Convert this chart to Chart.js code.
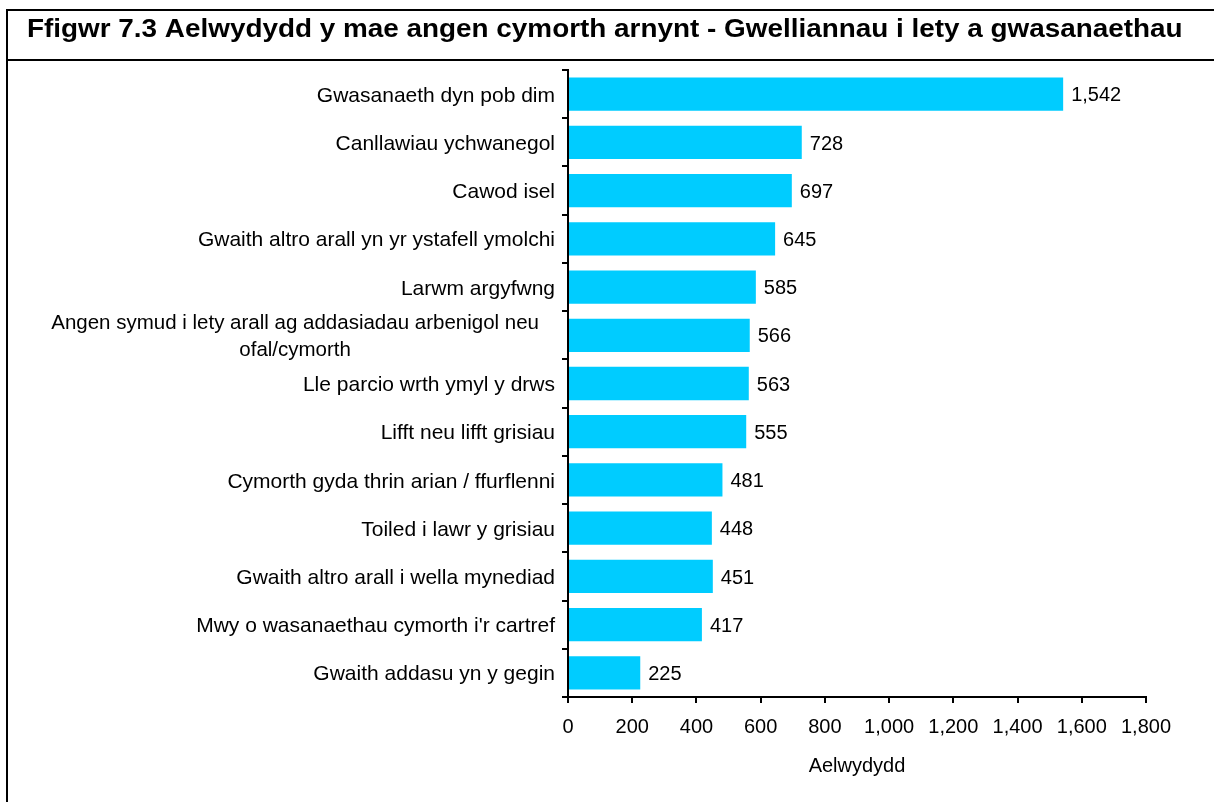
<!DOCTYPE html>
<html>
<head>
<meta charset="utf-8">
<title>Ffigwr 7.3</title>
<script src="https://cdn.jsdelivr.net/npm/chart.js@4/dist/chart.umd.min.js"></script>
<style>
  html, body { margin: 0; padding: 0; background: #ffffff; }
  canvas { display: block; }
</style>
</head>
<body>
<canvas id="chart" width="1214" height="802"></canvas>
<script>
// Chart data
const titleText = 'Ffigwr 7.3 Aelwydydd y mae angen cymorth arnynt - Gwelliannau i lety a gwasanaethau';
const categories = [
  'Gwasanaeth dyn pob dim',
  'Canllawiau ychwanegol',
  'Cawod isel',
  'Gwaith altro arall yn yr ystafell ymolchi',
  'Larwm argyfwng',
  ['Angen symud i lety arall ag addasiadau arbenigol neu', 'ofal/cymorth'],
  'Lle parcio wrth ymyl y drws',
  'Lifft neu lifft grisiau',
  'Cymorth gyda thrin arian / ffurflenni',
  'Toiled i lawr y grisiau',
  'Gwaith altro arall i wella mynediad',
  'Mwy o wasanaethau cymorth i\'r cartref',
  'Gwaith addasu yn y gegin'
];
const households = [1542, 728, 697, 645, 585, 566, 563, 555, 481, 448, 451, 417, 225];
const xTicks = [0, 200, 400, 600, 800, 1000, 1200, 1400, 1600, 1800];
const xAxisTitle = 'Aelwydydd';

const FONT = '"Liberation Sans", Arial, Helvetica, sans-serif';
const fmt = v => v.toLocaleString('en-US');

// White background, outer frame and title band
const framePlugin = {
  id: 'frame',
  beforeDraw(chart) {
    const ctx = chart.ctx;
    ctx.save();
    ctx.fillStyle = '#ffffff';
    ctx.fillRect(0, 0, chart.width, chart.height);
    ctx.strokeStyle = '#000000';
    ctx.lineWidth = 2;
    ctx.beginPath();
    ctx.moveTo(7, chart.height);
    ctx.lineTo(7, 10);
    ctx.lineTo(chart.width, 10);
    ctx.moveTo(7, 60);
    ctx.lineTo(chart.width, 60);
    ctx.stroke();
    // title, set slightly wide
    ctx.fillStyle = '#000000';
    ctx.font = '700 25px ' + FONT;
    ctx.textAlign = 'left';
    ctx.textBaseline = 'alphabetic';
    ctx.translate(27, 37);
    ctx.scale(1.115, 1);
    ctx.fillText(titleText, 0, 0);
    ctx.restore();
  }
};

// Category labels beside the vertical axis; wrapped labels are centred
const categoryLabelPlugin = {
  id: 'categoryLabels',
  afterDraw(chart) {
    const ctx = chart.ctx;
    const yScale = chart.scales.y;
    ctx.save();
    ctx.fillStyle = '#000000';
    ctx.textBaseline = 'alphabetic';
    const lineGap = 26.5;
    categories.forEach((label, i) => {
      const cy = yScale.getPixelForValue(i);
      if (Array.isArray(label)) {
        ctx.font = '20.5px ' + FONT;
        const n = label.length;
        const widest = Math.max(...label.map(l => ctx.measureText(l).width));
        const cx = yScale.right - 29 - widest / 2;
        ctx.textAlign = 'center';
        label.forEach((line, k) => {
          ctx.fillText(line, cx, cy + 7.4 + (k - (n - 1) / 2) * lineGap);
        });
      } else {
        ctx.font = '21px ' + FONT;
        ctx.textAlign = 'right';
        ctx.fillText(label, yScale.right - 13, cy + 7.6);
      }
    });
    ctx.restore();
  }
};

// Value labels at the end of each bar
const valueLabelPlugin = {
  id: 'valueLabels',
  afterDatasetsDraw(chart) {
    const ctx = chart.ctx;
    const meta = chart.getDatasetMeta(0);
    ctx.save();
    ctx.fillStyle = '#000000';
    ctx.font = '20px ' + FONT;
    ctx.textAlign = 'left';
    ctx.textBaseline = 'alphabetic';
    meta.data.forEach((bar, i) => {
      ctx.fillText(fmt(households[i]), bar.x + 8, bar.y + 7.2);
    });
    ctx.restore();
  }
};

new Chart(document.getElementById('chart'), {
  type: 'bar',
  data: {
    labels: categories,
    datasets: [{
      data: households,
      backgroundColor: '#00CCFF',
      borderWidth: 0,
      barPercentage: 0.69,
      categoryPercentage: 1.0
    }]
  },
  options: {
    indexAxis: 'y',
    responsive: false,
    devicePixelRatio: 1,
    animation: false,
    layout: { padding: { left: 0, top: 70, right: 68, bottom: 0 } },
    plugins: {
      legend: { display: false },
      tooltip: { enabled: false },
      title: { display: false }
    },
    scales: {
      y: {
        type: 'category',
        position: 'left',
        offset: true,
        ticks: { display: false },
        grid: {
          offset: true,
          drawOnChartArea: false,
          drawTicks: true,
          tickLength: 6,
          color: '#000000',
          lineWidth: 2
        },
        border: { display: true, color: '#000000', width: 2 },
        afterFit(scale) { scale.width = 568; }
      },
      x: {
        type: 'linear',
        position: 'bottom',
        min: xTicks[0],
        max: xTicks[xTicks.length - 1],
        afterBuildTicks(scale) { scale.ticks = xTicks.map(v => ({ value: v })); },
        ticks: {
          autoSkip: false,
          maxRotation: 0,
          color: '#000000',
          padding: 12,
          font: { family: FONT, size: 20 },
          callback: v => fmt(v)
        },
        grid: {
          drawOnChartArea: false,
          drawTicks: true,
          tickLength: 6,
          color: '#000000',
          lineWidth: 2
        },
        border: { display: true, color: '#000000', width: 2 },
        title: {
          display: true,
          text: xAxisTitle,
          color: '#000000',
          font: { family: FONT, size: 20 },
          padding: { top: 0, bottom: 24 }
        },
        afterFit(scale) { scale.height = 105; }
      }
    }
  },
  plugins: [framePlugin, categoryLabelPlugin, valueLabelPlugin]
});
</script>
</body>
</html>
